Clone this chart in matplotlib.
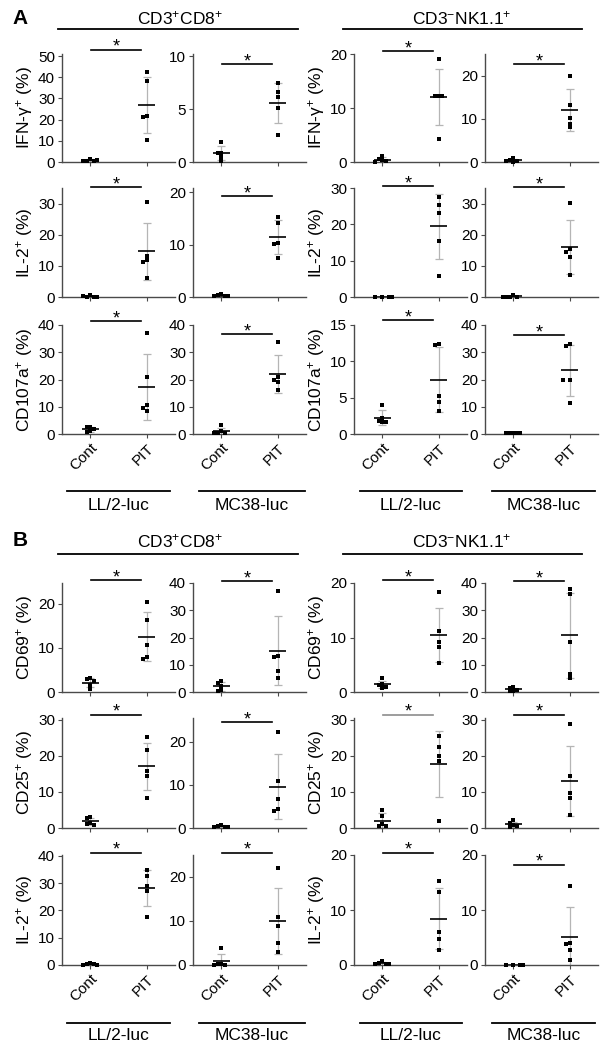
import numpy as np
import matplotlib
matplotlib.use('Agg')
import matplotlib.pyplot as plt
from matplotlib.lines import Line2D

plt.rcParams['font.family'] = ['Liberation Sans', 'DejaVu Sans']
plt.rcParams['mathtext.fontset'] = 'custom'
plt.rcParams['mathtext.rm'] = 'Liberation Sans'
plt.rcParams['mathtext.it'] = 'Liberation Sans:italic'
plt.rcParams['mathtext.default'] = 'regular'

groups = ['Cont', 'PIT']
tumours = ['LL/2-luc', 'MC38-luc']
cell_types = ['CD3$^{+}$CD8$^{+}$', 'CD3$^{-}$NK1.1$^{+}$']

# columns: CD8 LL/2, CD8 MC38, NK LL/2, NK MC38
a_markers = ['IFN-γ$^{+}$ (%)', 'IL-2$^{+}$ (%)', 'CD107a$^{+}$ (%)']
a_ifng_cont = [[1.5, 0.6, 0.4, 0.5, 0.8], [1.9, 0.85, 0.85, 0.5, 0.05],
               [1.1, 0.6, 0.4, 0.2, 0.0], [0.9, 0.4, 0.3, 0.2, 0.1]]
a_ifng_pit = [[42.4, 38.2, 21.9, 21.3, 10.3], [7.47, 6.6, 6.14, 5.09, 2.53],
              [19.1, 12.3, 12.2, 12.2, 4.3], [20.0, 13.2, 10.2, 8.9, 8.0]]
a_il2_cont = [[0.5, 0.1, 0.0, 0.1, 0.2], [0.6, 0.3, 0.2, 0.1, 0.1],
              [0.0, 0.0, 0.0, 0.0, 0.0], [0.7, 0.1, 0.0, 0.1, 0.0]]
a_il2_pit = [[30.5, 13.3, 11.9, 11.2, 6.2], [15.2, 14.2, 10.4, 10.2, 7.4],
             [27.6, 25.2, 23.1, 15.5, 5.8], [30.2, 15.4, 14.6, 12.7, 7.0]]
a_cd107a_cont = [[2.5, 2.5, 2.0, 1.0, 0.6], [3.2, 1.0, 0.5, 0.3, 0.2],
                 [4.0, 2.2, 1.8, 1.7, 1.6], [0.5, 0.4, 0.3, 0.3, 0.2]]
a_cd107a_pit = [[37.2, 20.8, 10.7, 9.7, 8.6], [33.9, 21.0, 19.8, 19.2, 16.1],
                [12.4, 12.3, 5.2, 4.4, 3.1], [33.2, 32.3, 20.0, 20.0, 11.2]]

b_markers = ['CD69$^{+}$ (%)', 'CD25$^{+}$ (%)', 'IL-2$^{+}$ (%)']
b_cd69_cont = [[3.1, 3.0, 2.4, 1.5, 0.6], [4.0, 3.2, 2.2, 0.6, 0.2],
               [2.5, 1.5, 1.2, 1.0, 0.8], [1.7, 1.5, 0.8, 0.4, 0.2]]
b_cd69_pit = [[20.4, 16.3, 10.6, 7.9, 7.5], [37.1, 13.3, 12.9, 7.8, 5.0],
              [18.3, 11.2, 9.2, 8.2, 5.3], [37.8, 36.0, 18.5, 6.6, 5.2]]
b_cd25_cont = [[3.0, 2.9, 1.5, 1.0, 0.9], [0.8, 0.4, 0.3, 0.2, 0.2],
               [5.0, 3.2, 1.0, 0.6, 0.5], [2.1, 1.4, 0.9, 0.5, 0.2]]
b_cd25_pit = [[25.2, 21.7, 15.7, 14.5, 8.3], [22.2, 10.8, 6.8, 4.4, 3.9],
              [25.4, 22.4, 20.0, 18.7, 2.0], [28.9, 14.3, 9.7, 8.3, 3.6]]
b_il2_cont = [[0.6, 0.3, 0.2, 0.1, 0.1], [3.9, 0.3, 0.2, 0.1, 0.1],
              [0.7, 0.3, 0.2, 0.1, 0.1], [0.0, 0.0, 0.0, 0.0, 0.0]]
b_il2_pit = [[34.8, 32.5, 28.8, 27.2, 17.5], [22.1, 10.9, 8.8, 5.1, 3.0],
             [15.3, 13.2, 6.0, 4.7, 2.8], [14.4, 4.0, 3.9, 2.7, 0.9]]

# layout (pixels in a 611x1050 canvas)
W, H = 611, 1050
col_left = [62, 193, 354, 485]
col_w = 113
rows_a = [(54, 162), (188, 297), (325, 434)]
rows_b = [(583, 692), (718, 828), (855, 965)]
ylim_a = [[51, 10.2, 20, 25], [35, 20.8, 30, 35], [40, 40, 15, 40]]
ylim_b = [[24.7, 40, 20, 40], [30.5, 25.5, 30.5, 30.5], [40.3, 25, 20, 20]]
step_a = [[10, 5, 10, 10], [10, 10, 10, 10], [10, 10, 5, 10]]
step_b = [[10, 10, 10, 10], [10, 10, 10, 10], [10, 10, 10, 10]]
sig_a = [[53, 9.26, 20.5, 22.7], [35.3, 19.2, 30.5, 35.3], [41.5, 36.7, 15.7, 36.3]]
sig_b = [[25.4, 40.7, 20.5, 40.7], [31.4, 24.5, 31.4, 31.4], [41.1, 25.5, 20.4, 18.2]]
sig_grey = {('B', 1, 2)}

spine_col = '#4a4a4a'
sd_col = '#b5b5b5'

fig = plt.figure(figsize=(W / 100, H / 100), dpi=100)


def px_axes(left, top, width, height):
    return fig.add_axes([left / W, 1 - (top + height) / H, width / W, height / H])


def swarm_x(ax, xc, vals, step=3.4):
    placed = []
    xs = []
    inv = ax.transData.inverted()
    for v in vals:
        px, py = ax.transData.transform((xc, v))
        for c in [0, -1, 1, -2, 2, -3, 3]:
            qx = px + c * step
            if all(np.hypot(qx - a, py - b) >= step for a, b in placed):
                break
        placed.append((qx, py))
        xs.append(inv.transform((qx, py))[0])
    return xs


def draw_panel(ax, cont, pit, ytop, ystep, sig_y, ylabel, show_x, grey_bar):
    ax.set_xlim(-0.5, 1.5)
    ax.set_ylim(0, ytop)
    for s in ['top', 'right']:
        ax.spines[s].set_visible(False)
    for s in ['left', 'bottom']:
        ax.spines[s].set_color(spine_col)
        ax.spines[s].set_linewidth(1.0)
    ax.set_yticks(np.arange(0, ytop + 0.01, ystep))
    ax.set_yticklabels(['%d' % t for t in np.arange(0, ytop + 0.01, ystep)])
    ax.set_xticks([0, 1])
    if show_x:
        ax.set_xticklabels(groups, rotation=45, ha='right', rotation_mode='anchor',
                           fontsize=12)
    else:
        ax.set_xticklabels([])
    ax.tick_params(direction='out', length=3, width=0.8, color=spine_col,
                   labelsize=11, pad=2)
    for xc, vals in zip([0, 1], [cont, pit]):
        vals = np.array(vals)
        m = vals.mean()
        sd = vals.std(ddof=1)
        ax.vlines(xc, m - sd, m + sd, color=sd_col, lw=0.9, zorder=1)
        ax.hlines([m - sd, m + sd], xc - 0.07, xc + 0.07, color=sd_col, lw=0.9, zorder=1)
        xs = swarm_x(ax, xc, vals)
        ax.plot(xs, vals, 's', color='black', ms=2.4, mew=0, zorder=3, clip_on=False)
        ax.hlines(m, xc - 0.15, xc + 0.15, color='black', lw=1.2, zorder=2)
    bc = '#8c8c8c' if grey_bar else 'black'
    ax.plot([0.02, 0.9], [sig_y, sig_y], color=bc, lw=1.2, clip_on=False)
    ax.annotate('*', (0.46, sig_y), xytext=(0, -1.5), textcoords='offset points',
                ha='center', va='baseline', fontsize=13, annotation_clip=False)
    if ylabel:
        ax.set_ylabel(ylabel, fontsize=12.5)
        ax.yaxis.set_label_coords(-0.235, 0.5)


sections = [
    ('A', rows_a, a_markers, [(a_ifng_cont, a_ifng_pit), (a_il2_cont, a_il2_pit),
                              (a_cd107a_cont, a_cd107a_pit)], ylim_a, step_a, sig_a),
    ('B', rows_b, b_markers, [(b_cd69_cont, b_cd69_pit), (b_cd25_cont, b_cd25_pit),
                              (b_il2_cont, b_il2_pit)], ylim_b, step_b, sig_b),
]

for name, rows, markers, data, ylims, steps, sigs in sections:
    for r, (top, bottom) in enumerate(rows):
        cont_sets, pit_sets = data[r]
        for c in range(4):
            ax = px_axes(col_left[c], top, col_w, bottom - top)
            draw_panel(ax, cont_sets[c], pit_sets[c], ylims[r][c], steps[r][c],
                       sigs[r][c], markers[r] if c in (0, 2) else None,
                       r == 2, (name, r, c) in sig_grey)


def fig_line(x0, x1, y):
    fig.add_artist(Line2D([x0 / W, x1 / W], [1 - y / H, 1 - y / H], color='black', lw=1.3))


def fig_text(x, y, s, **kw):
    fig.text(x / W, 1 - y / H, s, ha='center', va='center', **kw)


# headers
for letter, ty, ly in [('A', 18, 29), ('B', 541, 554)]:
    fig_text(20, ty, letter, fontsize=15, fontweight='bold')
    fig_text(180, ty, cell_types[0], fontsize=12.5)
    fig_text(462, ty, cell_types[1], fontsize=12.5)
    fig_line(58, 298, ly)
    fig_line(343, 582, ly)

# tumour group lines
group_spans = [(67, 170), (199, 305), (360, 462), (492, 595)]
for ly, ty in [(491, 505), (1023, 1036)]:
    for i, (x0, x1) in enumerate(group_spans):
        fig_line(x0, x1, ly)
        fig_text((x0 + x1) / 2, ty, tumours[i % 2], fontsize=12.5)

fig.savefig('out.png', dpi=100)
